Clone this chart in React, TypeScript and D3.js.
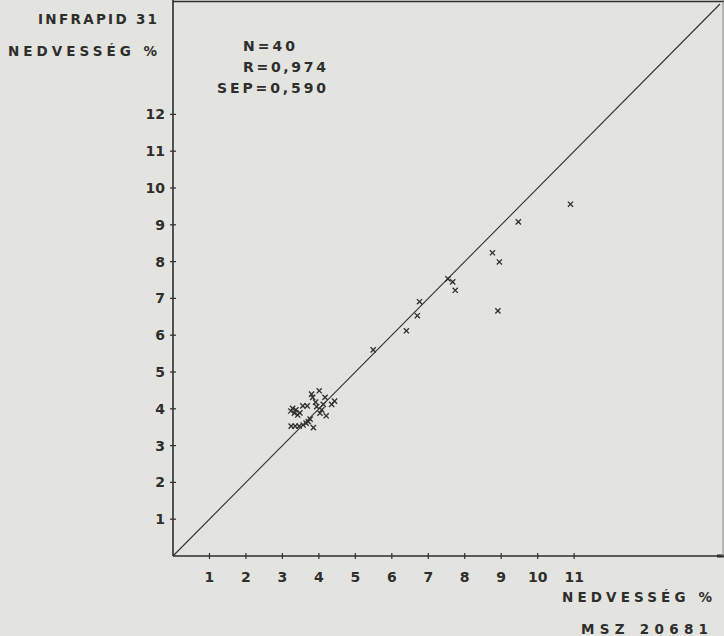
import {useEffect, useRef} from "react";
import * as d3 from "d3";

// MSZ 20681 reference moisture (x) vs INFRAPID 31 moisture (y), %
const xValues = [
    10.9, 9.47, 8.76, 8.95, 7.54, 7.67, 7.74, 6.76, 6.70, 6.40, 8.91, 5.49,
    4.01, 3.80, 3.83, 4.17, 3.91, 4.12, 4.43, 4.35, 3.56, 3.68, 3.28, 3.37,
    3.48, 3.33, 3.42, 4.08, 4.03, 4.20, 3.76, 3.71, 3.24, 3.35, 3.46, 3.57,
    3.65, 3.85, 3.23, 3.94,
];
const yValues = [
    9.56, 9.08, 8.24, 7.99, 7.53, 7.45, 7.22, 6.91, 6.53, 6.12, 6.66, 5.60,
    4.49, 4.40, 4.31, 4.31, 4.18, 4.12, 4.21, 4.12, 4.08, 4.08, 4.01, 3.97,
    3.89, 3.88, 3.83, 3.97, 3.88, 3.81, 3.72, 3.65, 3.53, 3.53, 3.53, 3.56,
    3.61, 3.49, 3.94, 4.06,
];
const tickValues = [1, 2, 3, 4, 5, 6, 7, 8, 9, 10, 11];
const yTickValues = [1, 2, 3, 4, 5, 6, 7, 8, 9, 10, 11, 12];
const statLines = ["N=40", "R=0,974", "SEP=0,590"];

const W = 724, H = 636;
const ink = "#2e2e2c";
const font = "'DejaVu Sans', Verdana, sans-serif";

const App = () => {
    const ref = useRef(null);

    useEffect(() => {
        const svg = d3.select(ref.current);
        svg.selectAll("*").remove();

        const x = d3.scaleLinear().domain([0, 15]).range([173, 720]);
        const y = d3.scaleLinear().domain([0, 15]).range([556, 4]);

        svg.append("rect").attr("width", W).attr("height", H).attr("fill", "#e3e4e0");

        const g = svg.append("g");

        // frame
        g.append("line").attr("x1", x(0)).attr("x2", x(0)).attr("y1", 0).attr("y2", y(0))
            .attr("stroke", ink).attr("stroke-width", 1.6);
        g.append("line").attr("x1", x(0)).attr("x2", W).attr("y1", 1.5).attr("y2", 1.5)
            .attr("stroke", ink).attr("stroke-width", 1.6);
        g.append("line").attr("x1", x(0)).attr("x2", W).attr("y1", y(0)).attr("y2", y(0))
            .attr("stroke", ink).attr("stroke-width", 1.6);
        g.append("line").attr("x1", 717).attr("x2", W).attr("y1", y(0)).attr("y2", y(0))
            .attr("stroke", ink).attr("stroke-width", 3);
        g.append("line").attr("x1", 723).attr("x2", 723).attr("y1", 0).attr("y2", y(0))
            .attr("stroke", "#8c8c89").attr("stroke-width", 1);

        // 1:1 line
        g.append("line").attr("x1", x(0)).attr("y1", y(0)).attr("x2", x(15)).attr("y2", y(15))
            .attr("stroke", ink).attr("stroke-width", 1.1);

        // ticks
        g.selectAll(".xt").data(tickValues).enter().append("line")
            .attr("x1", (d) => x(d)).attr("x2", (d) => x(d))
            .attr("y1", y(0) - 3).attr("y2", y(0) + 3)
            .attr("stroke", ink).attr("stroke-width", 1.2);
        g.selectAll(".xl").data(tickValues).enter().append("text")
            .attr("x", (d) => x(d)).attr("y", 582)
            .attr("text-anchor", "middle")
            .attr("font-family", font).attr("font-size", 14).attr("font-weight", 700)
            .attr("fill", ink).text((d) => d);

        g.selectAll(".yt").data(yTickValues).enter().append("line")
            .attr("x1", x(0) - 3).attr("x2", x(0) + 3)
            .attr("y1", (d) => y(d)).attr("y2", (d) => y(d))
            .attr("stroke", ink).attr("stroke-width", 1.2);
        g.selectAll(".yl").data(yTickValues).enter().append("text")
            .attr("x", 165).attr("y", (d) => y(d) + 5)
            .attr("text-anchor", "end")
            .attr("font-family", font).attr("font-size", 14).attr("font-weight", 700)
            .attr("fill", ink).text((d) => d);

        // points as small crosses
        const pts = xValues.map((v, i) => [x(v), y(yValues[i])]);
        const s = 2.6;
        g.selectAll(".pt").data(pts).enter().append("path")
            .attr("d", (d) => `M${d[0] - s},${d[1] - s}L${d[0] + s},${d[1] + s}M${d[0] - s},${d[1] + s}L${d[0] + s},${d[1] - s}`)
            .attr("stroke", ink).attr("stroke-width", 1.3).attr("fill", "none");

        // titles, stretched to the width they take in the original
        const title = (txt, tx, ty, len) => g.append("text")
            .attr("x", tx).attr("y", ty)
            .attr("textLength", len).attr("lengthAdjust", "spacing")
            .attr("font-family", font).attr("font-size", 13.5).attr("font-weight", 700)
            .attr("fill", ink).text(txt);

        title("INFRAPID 31", 38, 24, 119);
        title("NEDVESSÉG %", 8, 56, 149);
        title("NEDVESSÉG %", 562, 602, 150);
        title("MSZ  20681", 581, 634, 127);

        const statX = [243, 243, 217];
        const statLen = [52, 83, 109];
        g.selectAll(".st").data(statLines).enter().append("text")
            .attr("x", (d, i) => statX[i]).attr("y", (d, i) => 51 + i * 21)
            .attr("textLength", (d, i) => statLen[i]).attr("lengthAdjust", "spacing")
            .attr("font-family", font).attr("font-size", 14).attr("font-weight", 700)
            .attr("fill", ink).text((d) => d);
    }, []);

    return (
        <div>
            <svg ref={ref} width={W} height={H} style={{position: "absolute", left: 0, top: 0}}></svg>
        </div>
    );
};

export default App;
